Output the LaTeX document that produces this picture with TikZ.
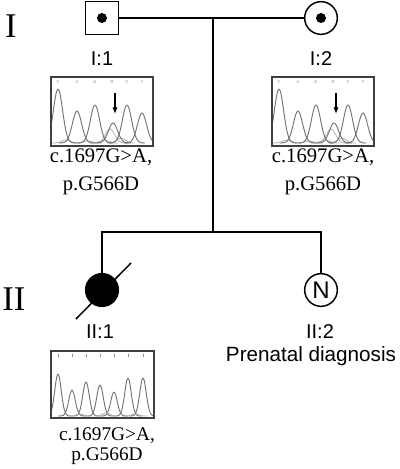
\documentclass[tikz,border=0pt]{standalone}
\usepackage{fontspec}
\setmainfont{Liberation Serif}
\setsansfont{Liberation Sans}
\usetikzlibrary{arrows.meta,calc,positioning}
\tikzset{
    ped/.style={line width=1.1pt},
    male/.style={rectangle,draw,line width=1.1pt,minimum size=24.5pt,inner sep=0pt},
    female/.style={circle,draw,line width=1.1pt,minimum size=24.5pt,inner sep=0pt},
    affected/.style={fill=black},
    carrier/.style={circle,fill=black,minimum size=7.5pt,inner sep=0pt},
    idlabel/.style={font=\sffamily\fontsize{15}{15}\selectfont,anchor=base,inner sep=0pt},
    mutation/.style={font=\fontsize{15.5}{15.5}\selectfont,anchor=base,inner sep=0pt},
    generation/.style={font=\fontsize{26}{26}\selectfont,anchor=base,inner sep=0pt},
    tracebox/.style={draw=black!75,line width=0.8pt},
    trace/.style={draw=black!55,line width=0.7pt},
    lighttrace/.style={draw=black!30,line width=0.6pt},
    basecall/.style={font=\sffamily\fontsize{3}{3}\selectfont,text=black!50,inner sep=0pt},
    mutarrow/.style={-{Latex[length=5pt,width=4pt]},line width=1.1pt}
}
\begin{document}
\begin{tikzpicture}[x=0.75pt,y=-0.75pt]
\useasboundingbox (0,0) rectangle (400,469);
% generations
\node[generation] (genI) at (11,37) {I};
\node[generation] (genII) at (14,310) {II};
% generation I
\node[male] (i1) at (102,18) {};
\node[carrier] (i1dot) at (i1) {};
\node[female] (i2) at (321,18) {};
\node[carrier] (i2dot) at (i2) {};
\coordinate (mate) at (213,18);
\coordinate (sib) at (213,232);
\draw[ped] (i1) -- (i2);
\draw[ped] (mate) -- (sib);
% generation II
\node[female,affected] (ii1) at (102,290) {};
\node[female,font=\sffamily\fontsize{18}{18}\selectfont] (ii2) at (321,290) {N};
\draw[ped] (ii1.north) |- (sib) -| (ii2.north);
\draw[ped] ($(ii1)+(-26,29)$) -- ($(ii1)+(29,-27)$);
% labels
\node[idlabel] (i1lab) at (102,65) {I:1};
\node[idlabel] (i2lab) at (321,65) {I:2};
\node[idlabel] (ii1lab) at (100,338) {II:1};
\node[idlabel] (ii2lab) at (320,338) {II:2};
\node[idlabel,font=\sffamily\fontsize{15.5}{15.5}\selectfont] (ii2note) at (311,361) {Prenatal diagnosis};
\node[mutation] (i1cdna) at (101,162) {c.1697G>A,};
\node[mutation] (i1prot) at (101,190) {p.G566D};
\node[mutation] (i2cdna) at (323,162) {c.1697G>A,};
\node[mutation] (i2prot) at (323,190) {p.G566D};
\node[mutation,font=\fontsize{14.5}{14.5}\selectfont] (ii1cdna) at (107,440.5) {c.1697G>A,};
\node[mutation,font=\fontsize{14.5}{14.5}\selectfont] (ii1prot) at (107,460.5) {p.G566D};
% carrier traces
\foreach \dx in {0,221}{
  \begin{scope}[shift={(\dx,0)}]
    \begin{scope}
      \clip (51,77) rectangle (153,146);
      \foreach \c/\h in {66/3,88/2,104/3,121/5}
        \draw[lighttrace] plot[domain=\c-14:\c+14,samples=25,smooth] (\x,{143-\h*exp(-((\x-\c)/6)^2)});
      \draw[lighttrace] plot[domain=94:128,samples=30,smooth] (\x,{143-14*exp(-((\x-110)/6.5)^2)});
      \foreach \c/\h in {58/54,77/32,95/38,113/20,127/38,142/30}
        \draw[trace] plot[domain=\c-18:\c+18,samples=36,smooth] (\x,{143-\h*exp(-((\x-\c)/6.5)^2)});
    \end{scope}
    \draw[tracebox] (51,77) rectangle (153,146);
    \foreach \c/\b in {58/C,77/A,95/G,112/R,127/C,142/T}
      \node[basecall] at (\c,82) {\b};
    \draw[mutarrow] (115,93) -- (115,114);
  \end{scope}
}
% affected trace
\begin{scope}
  \clip (51,351) rectangle (154,418);
  \foreach \c/\h in {58/42,72/26,86/34,100/31,114/24,128/38,143/38}
    \draw[trace] plot[domain=\c-14:\c+14,samples=30,smooth] (\x,{416-\h*exp(-((\x-\c)/4.6)^2)});
  \foreach \c/\h in {80/2,106/3,135/2}
    \draw[lighttrace] plot[domain=\c-12:\c+12,samples=25,smooth] (\x,{416-\h*exp(-((\x-\c)/5)^2)});
\end{scope}
\draw[tracebox] (51,351) rectangle (154,418);
\foreach \c in {58,72,86,100,114,128,143}
  \draw[black!45,line width=0.3pt] (\c,354) -- (\c,356.5);
\end{tikzpicture}
\end{document}
